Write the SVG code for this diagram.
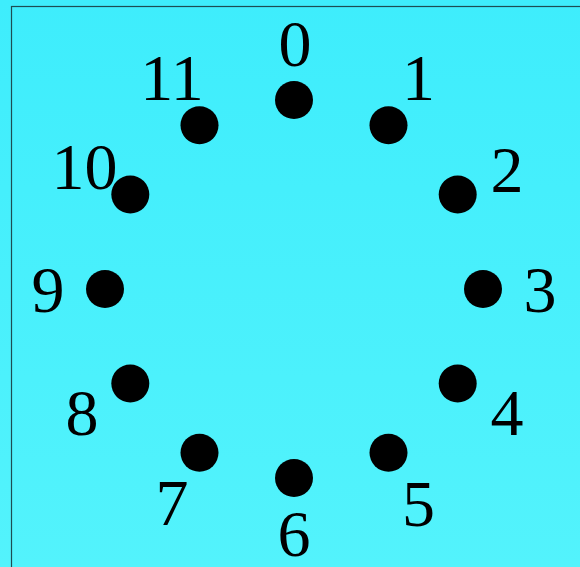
<svg xmlns="http://www.w3.org/2000/svg" width="580" height="567" viewBox="0 0 580 567">
<defs>
<linearGradient id="bg" x1="0" y1="0" x2="0" y2="1">
<stop offset="0" stop-color="#3eedfc"/>
<stop offset="1" stop-color="#53f3fc"/>
</linearGradient>
<style>
.dot{fill:#000}
.lbl{font-family:"Liberation Serif","Times New Roman",serif;font-size:66px;fill:#000;text-anchor:middle}
</style>
</defs>
<rect x="0" y="0" width="580" height="567" fill="url(#bg)"/>
<rect x="11.5" y="6.5" width="600" height="600" fill="none" stroke="#1d4d53" stroke-width="1.2"/>
<g id="connectors"></g>
<g id="n0"><circle class="dot" cx="294" cy="100" r="19"/><text class="lbl" x="295" y="66">0</text></g>
<g id="n1"><circle class="dot" cx="388.5" cy="125.3" r="19"/><text class="lbl" x="418.5" y="100">1</text></g>
<g id="n2"><circle class="dot" cx="457.7" cy="194.5" r="19"/><text class="lbl" x="507" y="192">2</text></g>
<g id="n3"><circle class="dot" cx="483" cy="289" r="19"/><text class="lbl" x="540" y="312">3</text></g>
<g id="n4"><circle class="dot" cx="457.7" cy="383.5" r="19"/><text class="lbl" x="507" y="435">4</text></g>
<g id="n5"><circle class="dot" cx="388.5" cy="452.7" r="19"/><text class="lbl" x="418.5" y="526">5</text></g>
<g id="n6"><circle class="dot" cx="294" cy="478" r="19"/><text class="lbl" x="294" y="556">6</text></g>
<g id="n7"><circle class="dot" cx="199.5" cy="452.7" r="19"/><text class="lbl" x="172" y="525">7</text></g>
<g id="n8"><circle class="dot" cx="130.3" cy="383.5" r="19"/><text class="lbl" x="82" y="435">8</text></g>
<g id="n9"><circle class="dot" cx="105" cy="289" r="19"/><text class="lbl" x="48" y="312">9</text></g>
<g id="n10"><circle class="dot" cx="130.3" cy="194.5" r="19"/><text class="lbl" x="84.5" y="189">10</text></g>
<g id="n11"><circle class="dot" cx="199.5" cy="125.3" r="19"/><text class="lbl" x="172" y="100">11</text></g>
</svg>
